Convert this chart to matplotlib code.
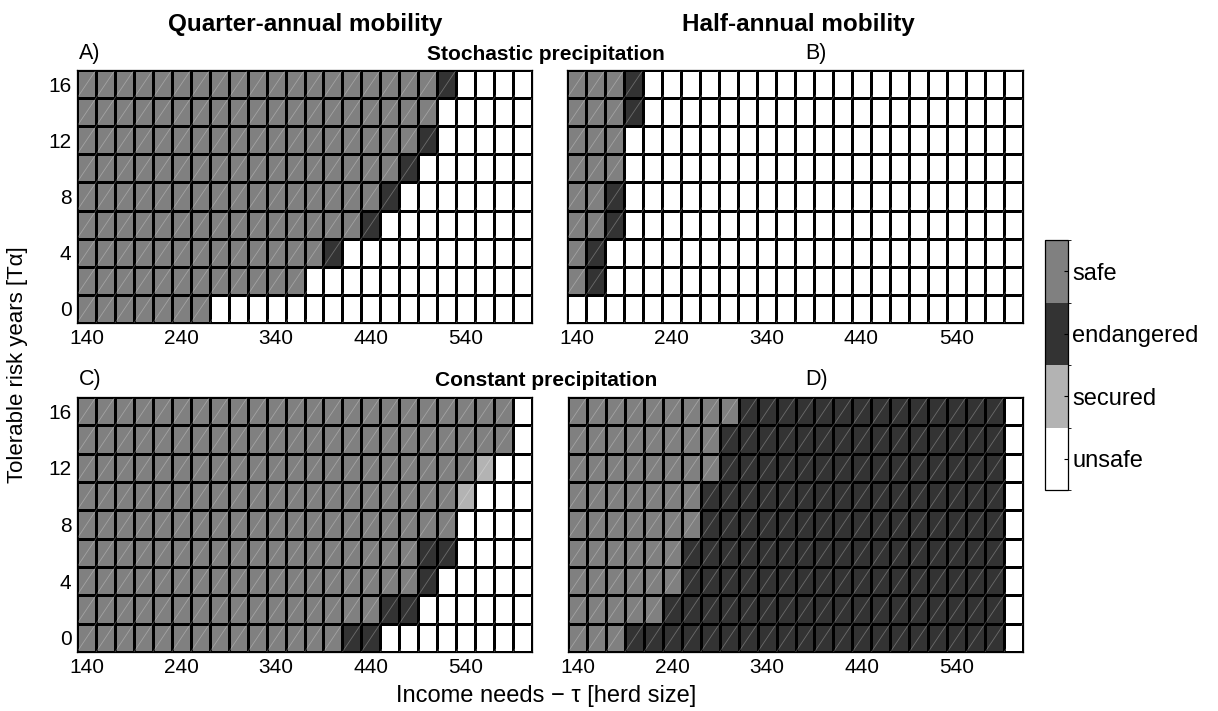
import numpy as np
import matplotlib
matplotlib.use("Agg")
import matplotlib.pyplot as plt
from matplotlib.colors import ListedColormap, BoundaryNorm
from matplotlib.collections import LineCollection

plt.rcParams['font.family'] = ['Liberation Sans', 'DejaVu Sans']

# herd size (columns) and tolerable risk years (rows)
income = np.arange(140, 601, 20)
risk_years = np.arange(0, 17, 2)

# state of each cell, rows from top (16) to bottom (0)
# S = safe, E = endangered, C = secured, U = unsafe
panel_a = [
    "SSSSS SSSSS SSSSS SSSSE UUUU",
    "SSSSS SSSSS SSSSS SSSSU UUUU",
    "SSSSS SSSSS SSSSS SSSEU UUUU",
    "SSSSS SSSSS SSSSS SSEUU UUUU",
    "SSSSS SSSSS SSSSS SEUUU UUUU",
    "SSSSS SSSSS SSSSS EUUUU UUUU",
    "SSSSS SSSSS SSSEU UUUUU UUUU",
    "SSSSS SSSSS SSUUU UUUUU UUUU",
    "SSSSS SSUUU UUUUU UUUUU UUUU",
]
panel_b = [
    "SSSEU UUUUU UUUUU UUUUU UUUU",
    "SSSEU UUUUU UUUUU UUUUU UUUU",
    "SSSUU UUUUU UUUUU UUUUU UUUU",
    "SSSUU UUUUU UUUUU UUUUU UUUU",
    "SSEUU UUUUU UUUUU UUUUU UUUU",
    "SSEUU UUUUU UUUUU UUUUU UUUU",
    "SEUUU UUUUU UUUUU UUUUU UUUU",
    "SEUUU UUUUU UUUUU UUUUU UUUU",
    "UUUUU UUUUU UUUUU UUUUU UUUU",
]
panel_c = [
    "SSSSS SSSSS SSSSS SSSSS SSSU",
    "SSSSS SSSSS SSSSS SSSSS SSSU",
    "SSSSS SSSSS SSSSS SSSSS SCUU",
    "SSSSS SSSSS SSSSS SSSSS CUUU",
    "SSSSS SSSSS SSSSS SSSSS UUUU",
    "SSSSS SSSSS SSSSS SSSEE UUUU",
    "SSSSS SSSSS SSSSS SSSEU UUUU",
    "SSSSS SSSSS SSSSS SEEUU UUUU",
    "SSSSS SSSSS SSSSE EUUUU UUUU",
]
panel_d = [
    "SSSSS SSSSE EEEEE EEEEE EEEU",
    "SSSSS SSSEE EEEEE EEEEE EEEU",
    "SSSSS SSSEE EEEEE EEEEE EEEU",
    "SSSSS SSEEE EEEEE EEEEE EEEU",
    "SSSSS SSEEE EEEEE EEEEE EEEU",
    "SSSSS SEEEE EEEEE EEEEE EEEU",
    "SSSSS SEEEE EEEEE EEEEE EEEU",
    "SSSSS EEEEE EEEEE EEEEE EEEU",
    "SSSEE EEEEE EEEEE EEEEE EEEU",
]

states = ["unsafe", "secured", "endangered", "safe"]
codes = {"U": 0, "C": 1, "E": 2, "S": 3}
colors = ["#ffffff", "#b3b3b3", "#333333", "#808080"]

x_ticks = [140, 240, 340, 440, 540]
y_ticks = [0, 4, 8, 12, 16]

W, H = 1218, 711
fig = plt.figure(figsize=(W / 100, H / 100), dpi=100)


def box(left, top, right, bottom):
    return [left / W, 1 - bottom / H, (right - left) / W, (bottom - top) / H]


def to_grid(rows):
    g = np.array([[codes[c] for c in r.replace(" ", "")] for r in rows])
    return g[::-1]  # bottom row first


cmap = ListedColormap(colors)
norm = BoundaryNorm([-0.5, 0.5, 1.5, 2.5, 3.5], cmap.N)

dx = income[1] - income[0]
dy = risk_years[1] - risk_years[0]
x_edges = np.append(income - dx / 2, income[-1] + dx / 2)
y_edges = np.append(risk_years - dy / 2, risk_years[-1] + dy / 2)

boxes = [box(77, 70, 532, 323), box(567, 70, 1023, 323),
         box(77, 397, 532, 652), box(568, 397, 1023, 652)]
panels = [panel_a, panel_b, panel_c, panel_d]

mesh = None
for i, (rect, rows) in enumerate(zip(boxes, panels)):
    ax = fig.add_axes(rect)
    grid = to_grid(rows)
    mesh = ax.pcolormesh(x_edges, y_edges, grid, cmap=cmap, norm=norm,
                         edgecolors="black", linewidth=0.75)
    # thin diagonal in every cell (triangle split of the patches)
    segs = []
    for yv in risk_years:
        for xv in income:
            segs.append([(xv - dx / 2, yv - dy / 2), (xv + dx / 2, yv + dy / 2)])
    ax.add_collection(LineCollection(segs, colors="white", linewidths=0.6, alpha=0.28))
    ax.set_xlim(x_edges[0], x_edges[-1])
    ax.set_ylim(y_edges[0], y_edges[-1])
    ax.set_xticks(x_ticks)
    ax.set_yticks(y_ticks)
    if i % 2 == 1:
        ax.set_yticklabels([])
    ax.tick_params(length=0, labelsize=15, pad=4)
    for s in ax.spines.values():
        s.set_linewidth(0.9)

cax = fig.add_axes(box(1045, 240, 1068, 490))
cb = fig.colorbar(mesh, cax=cax, ticks=[0, 1, 2, 3])
cb.ax.set_yticklabels(states)
cb.ax.tick_params(direction="in", length=3, labelsize=17, pad=3)
cb.outline.set_linewidth(0.9)


def label(x, y, s, **kw):
    fig.text(x / W, 1 - y / H, s, **kw)


label(305, 24, "Quarter-annual mobility", fontsize=17.5, fontweight="bold", ha="center", va="center")
label(798, 24, "Half-annual mobility", fontsize=17.5, fontweight="bold", ha="center", va="center")
label(546, 55, "Stochastic precipitation", fontsize=15, fontweight="bold", ha="center", va="center")
label(546, 381, "Constant precipitation", fontsize=15, fontweight="bold", ha="center", va="center")
label(79, 53, "A)", fontsize=15.5, va="center")
label(805, 53, "B)", fontsize=15.5, va="center")
label(79, 379, "C)", fontsize=15.5, va="center")
label(805, 379, "D)", fontsize=15.5, va="center")
label(546, 696, "Income needs − τ [herd size]", fontsize=17, ha="center", va="center")
label(18, 365, "Tolerable risk years [Tα]", fontsize=16, ha="center", va="center", rotation=90)

fig.savefig("out.png", dpi=100)
